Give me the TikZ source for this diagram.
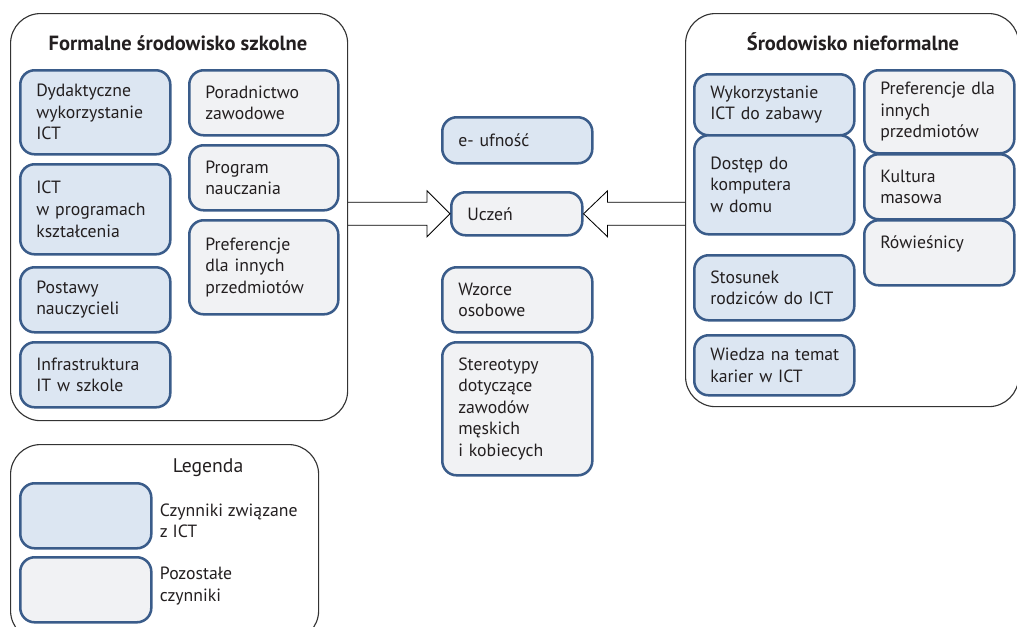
\documentclass[tikz,border=0pt]{standalone}
\usepackage{fontspec}
\setmainfont{PT Sans}
\usetikzlibrary{calc}
\definecolor{ictfill}{RGB}{220,230,242}
\definecolor{otherfill}{RGB}{241,242,244}
\definecolor{boxline}{RGB}{58,92,138}
\definecolor{ink}{RGB}{35,31,32}

\begin{document}
\begin{tikzpicture}
[x=0.025cm,y=-0.025cm,
region/.style ={rectangle, draw=black!80, line width=0.8pt,
rounded corners=0.75cm, anchor=north west},
factor/.style ={rectangle, draw=boxline, line width=1.8pt,
rounded corners=0.36cm, anchor=north west, align=left,
inner xsep=0.4cm, inner ysep=0pt, text=ink,
font=\fontsize{12.6}{15.3}\selectfont},
ict/.style ={factor, fill=ictfill},
other/.style ={factor, fill=otherfill},
heading/.style ={text=ink, font=\bfseries\fontsize{14.6}{16}\selectfont},
blockarrow/.style ={draw=black, line width=0.6pt, line join=miter}]
\clip (0,0) rectangle (1017,626);
% regions
\node [region, minimum width=8.425cm, minimum height=10.175cm] (formal) at (10,13) {};
\node [region, minimum width=8.325cm, minimum height=9.825cm] (informal) at (685,13) {};
\node [region, minimum width=7.7cm, minimum height=4.9cm] (legend) at (10,444) {};
\node [heading] (formaltitle) at (178,43) {Formalne środowisko szkolne};
\node [heading] (informaltitle) at (853,42) {Środowisko nieformalne};
% formal, column 1
\node [ict, text width=2.95cm, minimum height=2.1cm] (didactic) at (19,69) {Dydaktyczne\\wykorzystanie\\ICT};
\node [ict, text width=2.95cm, minimum height=2.25cm] (curricula) at (19,163) {ICT\\w programach\\kształcenia};
\node [ict, text width=2.95cm, minimum height=1.625cm] (teachers) at (19,266) {Postawy\\nauczycieli};
\node [ict, text width=2.95cm, minimum height=1.625cm] (infra) at (19,341) {Infrastruktura\\IT w szkole};
% formal, column 2
\node [other, text width=2.925cm, minimum height=1.625cm] (guidance) at (188,69) {Poradnictwo\\zawodowe};
\node [other, text width=2.925cm, minimum height=1.625cm] (programme) at (188,144) {Program\\nauczania};
\node [other, text width=2.925cm, minimum height=2.35cm] (prefschool) at (188,219) {Preferencje\\dla innych\\przedmiotów};
% middle
\node [ict, text width=2.95cm, minimum height=1.15cm] (trust) at (441,116) {e- ufność};
\node [other, text width=2.475cm, minimum height=1.075cm] (pupil) at (450,191) {Uczeń};
\node [other, text width=2.95cm, minimum height=1.625cm] (models) at (441,266) {Wzorce\\osobowe};
\node [other, text width=2.95cm, minimum height=3.325cm] (stereo) at (441,341) {Stereotypy\\dotyczące\\zawodów\\męskich\\i kobiecych};
% informal, column 1
\node [ict, text width=3.2cm, minimum height=1.525cm] (play) at (693,73) {Wykorzystanie\\ICT do zabawy};
\node [ict, text width=3.2cm, minimum height=2.475cm] (access) at (693,134) {Dostęp do\\komputera\\w domu};
\node [ict, text width=3.2cm, minimum height=1.625cm] (parents) at (693,254) {Stosunek\\rodziców do ICT};
\node [ict, text width=3.2cm, minimum height=1.5cm] (careers) at (693,334) {\mbox{Wiedza na temat}\\karier w ICT};
% informal, column 2
\node [other, text width=2.95cm, minimum height=2.075cm] (prefhome) at (863,69) {Preferencje dla\\innych\\przedmiotów};
\node [other, text width=2.95cm, minimum height=1.625cm] (culture) at (863,153) {Kultura\\masowa};
\node [other, text width=2.95cm, minimum height=1.625cm] (peers) at (863,219) {Rówieśnicy\\\mbox{}};
% legend
\node [text=ink, font=\fontsize{14}{16}\selectfont] (legendtitle) at (208,468) {Legenda};
\node [ict, text width=2.475cm, minimum height=1.625cm] (keyict) at (19,482) {};
\node [other, text width=2.475cm, minimum height=1.625cm] (keyother) at (19,556) {};
\node [anchor=west, align=left, text=ink, font=\fontsize{12.6}{15.3}\selectfont] (keyictlabel) at (155,521) {Czynniki związane\\z ICT};
\node [anchor=west, align=left, text=ink, font=\fontsize{12.6}{15.3}\selectfont] (keyotherlabel) at (155,586) {Pozostałe\\czynniki};
% block arrows into the pupil
\draw [blockarrow] ($(formal.east |- pupil.west)+(0,-11.5)$) -- ($(pupil.west)+(-23,-11.5)$)
  -- ($(pupil.west)+(-23,-23)$) -- (pupil.west) -- ($(pupil.west)+(-23,23)$)
  -- ($(pupil.west)+(-23,11.5)$) -- ($(formal.east |- pupil.west)+(0,11.5)$);
\draw [blockarrow] ($(informal.west |- pupil.east)+(0,-11.5)$) -- ($(pupil.east)+(24,-11.5)$)
  -- ($(pupil.east)+(24,-23)$) -- (pupil.east) -- ($(pupil.east)+(24,23)$)
  -- ($(pupil.east)+(24,11.5)$) -- ($(informal.west |- pupil.east)+(0,11.5)$);
\end{tikzpicture}
\end{document}
